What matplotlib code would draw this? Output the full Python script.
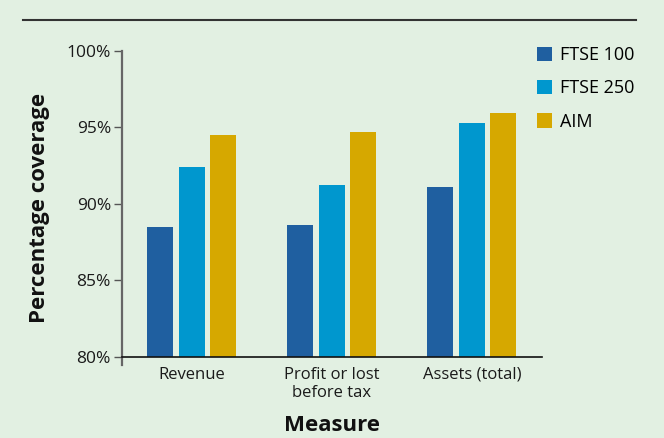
import matplotlib.pyplot as plt
import numpy as np

plt.rcParams['font.family'] = ['Open Sans', 'DejaVu Sans']

# data
measures = ['Revenue', 'Profit or lost\nbefore tax', 'Assets (total)']
series = ['FTSE 100', 'FTSE 250', 'AIM']
ftse100 = [88.5, 88.6, 91.1]
ftse250 = [92.4, 91.2, 95.3]
aim = [94.5, 94.7, 95.9]
colors = ['#1f5fa0', '#0097ce', '#d6a800']

bg = '#e2f0e2'
fig = plt.figure(figsize=(6.64, 4.38), dpi=100, facecolor=bg)
ax = fig.add_axes([122/664, 1 - 365/438, 420/664, (365 - 50.7)/438])
ax.set_facecolor(bg)

x = np.arange(len(measures))
w = 0.19
offsets = [-0.228, 0.0, 0.222]
for vals, off, c, name in zip([ftse100, ftse250, aim], offsets, colors, series):
    ax.bar(x + off, np.array(vals) - 80, width=w, bottom=80, color=c, label=name)

ax.set_xlim(-0.5, 2.5)
ax.set_ylim(79.48, 100)
ax.set_yticks([80, 85, 90, 95, 100])
ax.set_yticklabels(['80%', '85%', '90%', '95%', '100%'])
ax.set_xticks(x)
ax.set_xticklabels(measures)

for s in ['top', 'right']:
    ax.spines[s].set_visible(False)
ax.spines['bottom'].set_position(('data', 80))
ax.spines['bottom'].set_color('#111111')
ax.spines['bottom'].set_linewidth(1.2)
ax.spines['left'].set_color('#666666')
ax.spines['left'].set_linewidth(1.6)

ax.tick_params(axis='y', length=6, width=1, color='#555555', labelsize=12.5,
               labelcolor='#1a1a1a', pad=2)
ax.tick_params(axis='x', length=0, labelsize=12, labelcolor='#1a1a1a', pad=7)

ax.set_ylabel('Percentage coverage', fontsize=16, fontweight='bold', labelpad=12,
              color='#111111')
ax.set_xlabel('Measure', fontsize=16, fontweight='bold', labelpad=10,
              color='#111111')

fig.legend(loc='upper left', bbox_to_anchor=(528/664, 1 - 37/438), frameon=False,
           fontsize=13, handlelength=0.85, handleheight=0.85, handletextpad=0.45,
           labelspacing=0.85, borderpad=0)

# rule under the (cut off) heading
fig.add_artist(plt.Line2D([23/664, 636/664], [1 - 19.5/438] * 2,
                          color='#333333', lw=1.5, transform=fig.transFigure))

fig.savefig('out.png', dpi=100, facecolor=bg)
